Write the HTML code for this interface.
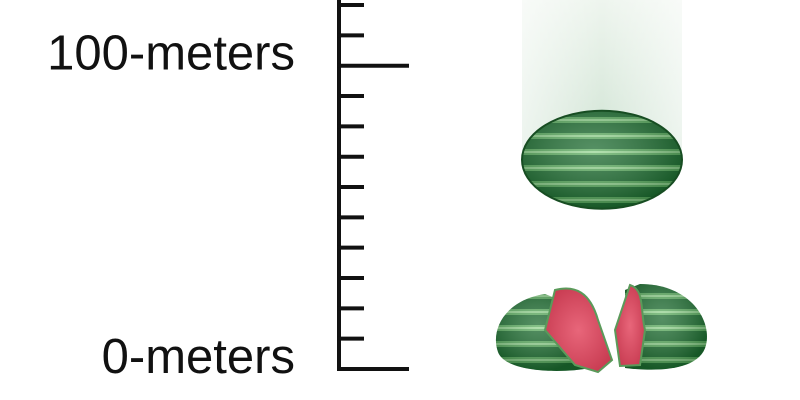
<!DOCTYPE html>
<html><head><meta charset="utf-8"><style>
html,body{margin:0;padding:0;background:#fff;}
svg{display:block;font-family:"Liberation Sans",sans-serif;}
</style></head><body>
<svg id="c" width="800" height="400" viewBox="0 0 800 400">
<defs>
<linearGradient id="trail" x1="0" y1="0" x2="0" y2="1">
<stop offset="0" stop-color="#eef5ee"/><stop offset="1" stop-color="#cfe3d3"/>
</linearGradient>
<linearGradient id="trailx" x1="0" y1="0" x2="1" y2="0">
<stop offset="0" stop-color="#fff" stop-opacity="0.6"/><stop offset="0.5" stop-color="#fff" stop-opacity="0"/><stop offset="1" stop-color="#fff" stop-opacity="0.6"/>
</linearGradient>
<pattern id="stripes" width="160" height="16" patternUnits="userSpaceOnUse">
<rect width="160" height="16" fill="#1d6b30"/>
<rect y="5" width="160" height="6" fill="#5fae62"/>
<rect y="7" width="160" height="2" fill="#9ad896"/>
</pattern>
<radialGradient id="shade" cx="0.45" cy="0.4" r="0.6">
<stop offset="0" stop-color="#fff" stop-opacity="0.25"/><stop offset="1" stop-color="#0a3314" stop-opacity="0.35"/>
</radialGradient>
<radialGradient id="flesh" cx="0.5" cy="0.5" r="0.6">
<stop offset="0" stop-color="#e8667a"/><stop offset="1" stop-color="#c73a50"/>
</radialGradient>
</defs>
<g id="axis"></g>
<g id="melons"></g>
</svg>
<script>
const tickValues=[0,10,20,30,40,50,60,70,80,90,100,110,120];
const majorTicks=[0,100];
const labelValues=[100,0];
const labelTexts=["100-meters","0-meters"];
const melonHeight=[69];
const NS="http://www.w3.org/2000/svg";
const y=v=>369-v*3.033;
function mk(t,a,p){const e=document.createElementNS(NS,t);for(const k in a)e.setAttribute(k,a[k]);p.appendChild(e);return e;}
const ax=document.getElementById('axis');
const spine=mk('line',{x1:339,y1:0,x2:339,y2:371,stroke:'#111','stroke-width':4},ax);


tickValues.forEach(v=>{
  const major=majorTicks.includes(v);
  const t=mk('line',{x1:337,y1:y(v),x2:major?409:364,y2:y(v),stroke:'#111','stroke-width':4},ax);
  
  
});
labelValues.forEach((v,i)=>{
  const t=mk('text',{x:295,y:y(v)+4,'text-anchor':'end','font-size':49,fill:'#111'},ax);
  t.textContent=labelTexts[i];
  
  
});
const m=document.getElementById('melons');
const my=y(melonHeight[0]);
const tr=mk('rect',{x:522,y:0,width:160,height:my,fill:'url(#trail)'},m);


mk('rect',{x:522,y:0,width:160,height:my,fill:'url(#trailx)'},m);
const fm=mk('g',{},m);


mk('ellipse',{cx:602,cy:my,rx:80,ry:49,fill:'url(#stripes)'},fm);
mk('ellipse',{cx:602,cy:my,rx:80,ry:49,fill:'url(#shade)',stroke:'#174d22','stroke-width':2},fm);
const bm=mk('g',{},m);


mk('path',{d:'M545,294 C505,300 490,330 498,352 C505,372 560,374 590,368 L560,300 Z',fill:'url(#stripes)'},bm);
mk('path',{d:'M545,294 C505,300 490,330 498,352 C505,372 560,374 590,368 L560,300 Z',fill:'url(#shade)'},bm);
mk('path',{d:'M640,284 C690,284 712,320 706,345 C700,370 660,372 625,368 L625,290 Z',fill:'url(#stripes)'},bm);
mk('path',{d:'M640,284 C690,284 712,320 706,345 C700,370 660,372 625,368 L625,290 Z',fill:'url(#shade)'},bm);
mk('path',{d:'M555,290 C575,285 590,292 598,320 L612,360 L598,372 L575,365 L545,330 Z',fill:'url(#flesh)',stroke:'#5a9a5a','stroke-width':2},bm);
mk('path',{d:'M630,285 C645,290 640,310 645,330 L640,365 L620,366 L615,330 Z',fill:'url(#flesh)',stroke:'#5a9a5a','stroke-width':2},bm);
</script>
</body></html>
